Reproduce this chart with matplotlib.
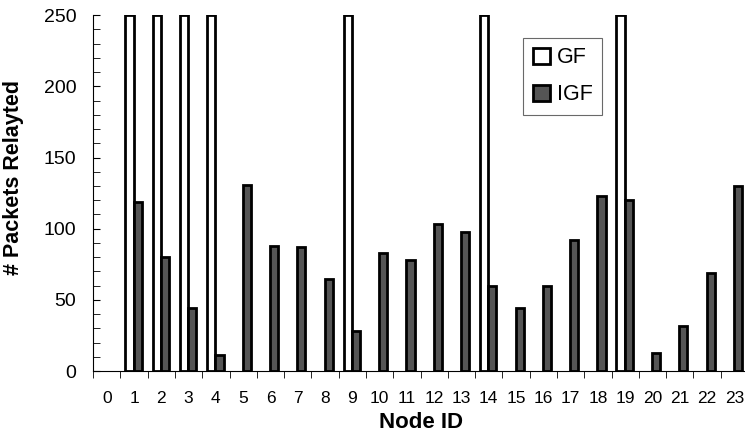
import numpy as np
import matplotlib.pyplot as plt

plt.rcParams["font.family"] = ["Liberation Sans", "DejaVu Sans"]

nodes = list(range(24))
gf = [0, 250, 250, 250, 250, 0, 0, 0, 0, 250, 0, 0, 0, 0, 250, 0, 0, 0, 0, 250, 0, 0, 0, 0]
igf = [0, 119, 80, 44, 11, 131, 88, 87, 65, 28, 83, 78, 103, 98, 60, 44, 60, 92, 123, 120, 13, 32, 69, 130]

fig = plt.figure(figsize=(7.45, 4.34), dpi=100)
ax = fig.add_axes([0.125, 0.145, 0.879, 0.82])

x = np.array(nodes)
w = 0.3
gf_x = [xi for xi, v in zip(x, gf) if v > 0]
gf_v = [v for v in gf if v > 0]
igf_x = [xi for xi, v in zip(x, igf) if v > 0]
igf_v = [v for v in igf if v > 0]
ax.bar(np.array(gf_x) - 0.17, gf_v, w, color="white", edgecolor="black",
       linewidth=2.0, label="GF")
ax.bar(np.array(igf_x) + 0.13, igf_v, w, color="#555555", edgecolor="black",
       linewidth=2.0, label="IGF")

ax.set_xlim(-0.5, 23.5)
ax.set_ylim(0, 250)
ax.spines["top"].set_visible(False)
ax.spines["right"].set_visible(False)

ax.set_xticks(x)
ax.set_xticklabels([str(n) for n in nodes], fontsize=12.5)
ax.tick_params(axis="x", which="major", length=0, pad=14)
ax.set_xticks(np.arange(-0.5, 24, 1), minor=True)
ax.tick_params(axis="x", which="minor", length=5, direction="out")

ax.set_yticks(np.arange(0, 251, 50))
ax.set_yticks(np.arange(0, 251, 10), minor=True)
ax.tick_params(axis="y", which="both", direction="in", length=5)
ax.tick_params(axis="y", which="major", labelsize=14, pad=12)

ax.set_xlabel("Node ID", fontsize=16, fontweight="bold")
ax.xaxis.set_label_coords(0.5, -0.115)
ax.set_ylabel("# Packets Relayted", fontsize=15.5, fontweight="bold")
ax.yaxis.set_label_coords(-0.106, 0.545)

leg = ax.legend(loc="upper left", bbox_to_anchor=(0.647, 0.955), fontsize=15.5,
                frameon=True, fancybox=False, edgecolor="#444444",
                handlelength=0.8, handleheight=0.8, handletextpad=0.3,
                labelspacing=0.75, borderpad=0.45, borderaxespad=0.3)
leg.get_frame().set_linewidth(0.8)

plt.savefig("out.png")
